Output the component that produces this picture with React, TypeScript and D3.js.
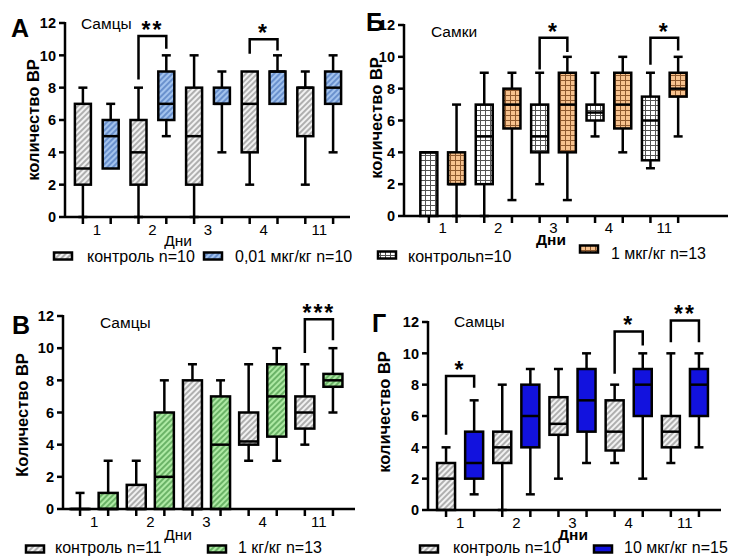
import React from "react";
import * as d3 from "d3";

const days = ["1", "2", "3", "4", "11"];
const yTicks = [0, 2, 4, 6, 8, 10, 12];

// box stats per day: [min, q1, median, q3, max]
const aControl = [[0, 2, 3, 7, 8], [0, 2, 4, 6, 8], [0, 2, 5, 8, 10], [2, 4, 7, 9, 9], [2, 5, 8, 8, 9]];
const aDose = [[3, 3, 5, 6, 7], [5, 6, 7, 9, 10], [4, 7, 7, 8, 9], [7, 7, 9, 9, 10], [4, 7, 8, 9, 10]];

const bControl = [[0, 0, 4, 4, 4], [0, 2, 5, 7, 9], [2, 4, 5, 7, 9], [5, 6, 6.5, 7, 9], [3, 3.5, 6, 7.5, 9]];
const bDose = [[0, 2, 2, 4, 7], [1, 5.5, 7, 8, 9], [1, 4, 7, 9, 10], [4, 5.5, 7, 9, 10], [5, 7.5, 8, 9, 10]];

const vControl = [[0, 0, 0, 0, 1], [0, 0, 0, 1.5, 3], [0, 0, 0, 8, 9], [3, 4, 4.2, 6, 9], [4, 5, 6, 7, 9]];
const vDose = [[0, 0, 0, 1, 3], [0, 0, 2, 6, 8], [0, 0, 4, 7, 8], [3, 4.5, 7, 9, 10], [6, 7.6, 8, 8.4, 10]];

const gControl = [[0, 0, 2, 3, 4], [0, 3, 4, 5, 8], [2, 4.8, 5.5, 7.2, 9], [3, 3.8, 5, 7, 8], [3, 4, 5, 6, 10]];
const gDose = [[1, 2, 3, 5, 7], [1, 4, 6, 8, 9], [3, 5, 7, 9, 10], [2, 6, 8, 9, 10], [4, 6, 8, 9, 10]];

// significance brackets: [day index, top, left leg end, right leg end, stars]
const aSig = [[1, 11.2, 8.5, 10.4, "**"], [3, 11, 10.1, 10.3, "*"]];
const bSig = [[2, 11.2, 9.2, 10.3, "*"], [4, 11.2, 9.5, 10.4, "*"]];
const vSig = [[4, 11.8, 9.7, 10.5, "***"]];
const gSig = [[0, 8.55, 4.8, 7.8, "*"], [3, 11.4, 8.7, 10.5, "*"], [4, 12.1, 10.7, 10.7, "**"]];

const aLegend = ["контроль n=10", "0,01 мкг/кг n=10"];
const bLegend = ["контрольn=10", "1 мкг/кг n=13"];
const vLegend = ["контроль n=11", "1 кг/кг n=13"];
const gLegend = ["контроль n=10", "10 мкг/кг n=15"];

const font = "'Liberation Sans', Arial, sans-serif";

const panels = [
  {
    control: aControl, dose: aDose, sig: aSig, legend: aLegend,
    fills: ["url(#hGray)", "url(#hBlue)"],
    axisX: 65, xEnd: 350, y0: 217, y12: 23, range: [69, 347], boxW: 16,
    letter: "А", letterX: 11, letterY: 37, title: "Самцы", titleX: 81, titleY: 29,
    yTitle: "количество ВР", yTitleX: 33, yTitleY: 120, xLabelY: 235,
    dniX: 178, dniY: 246, dniBold: false,
    lg: [[54, 256, 87, 262], [204, 256, 235, 262]],
  },
  {
    control: bControl, dose: bDose, sig: bSig, legend: bLegend,
    fills: ["url(#gWhite)", "url(#gOrange)"],
    axisX: 404, xEnd: 728, y0: 216, y12: 25, range: [415, 692], boxW: 17,
    letter: "Б", letterX: 366, letterY: 31, title: "Самки", titleX: 431, titleY: 37,
    yTitle: "количество ВР", yTitleX: 376, yTitleY: 118, xLabelY: 233,
    dniX: 551, dniY: 245, dniBold: true,
    lg: [[378, 255, 408, 262], [580, 249, 611, 259]],
  },
  {
    control: vControl, dose: vDose, sig: vSig, legend: vLegend,
    fills: ["url(#hGray)", "url(#hGreen)"],
    axisX: 63, xEnd: 355, y0: 509, y12: 316, range: [66, 347], boxW: 19,
    letter: "В", letterX: 12, letterY: 334, title: "Самцы", titleX: 100, titleY: 328,
    yTitle: "Количество ВР", yTitleX: 22, yTitleY: 415, xLabelY: 527,
    dniX: 178, dniY: 540, dniBold: false,
    lg: [[26, 549, 55, 553], [208, 549, 238, 553]],
  },
  {
    control: gControl, dose: gDose, sig: gSig, legend: gLegend,
    fills: ["url(#hGray)", "#1212de"],
    axisX: 428, xEnd: 721, y0: 510, y12: 322, range: [432, 713], boxW: 18,
    letter: "Г", letterX: 372, letterY: 332, title: "Самцы", titleX: 454, titleY: 327,
    yTitle: "количество ВР", yTitleX: 384, yTitleY: 412, xLabelY: 528,
    dniX: 573, dniY: 540, dniBold: true,
    lg: [[420, 549, 453, 553], [594, 549, 624, 553]],
  },
];

function Panel({ p }) {
  const y = d3.scaleLinear().domain([0, 12]).range([p.y0, p.y12]);
  const keys = days.flatMap((d) => [d + "c", d + "t"]);
  const x = d3.scaleBand().domain(keys).range(p.range);
  const cx = (k) => x(k) + x.bandwidth() / 2;
  const cap = 9;

  const box = (s, c, fill, key) => {
    const [mn, q1, md, q3, mx] = s;
    const w = p.boxW;
    return (
      <g key={key} stroke="#000" strokeWidth={2.5}>
        {mx > q3 && (
          <>
            <line x1={c} x2={c} y1={y(mx)} y2={y(q3)} />
            <line x1={c - cap / 2} x2={c + cap / 2} y1={y(mx)} y2={y(mx)} />
          </>
        )}
        {mn < q1 && (
          <>
            <line x1={c} x2={c} y1={y(q1)} y2={y(mn)} />
            <line x1={c - cap / 2} x2={c + cap / 2} y1={y(mn)} y2={y(mn)} />
          </>
        )}
        <rect x={c - w / 2} y={y(q3)} width={w} height={Math.max(y(q1) - y(q3), 0.1)} fill={fill} />
        <line x1={c - w / 2} x2={c + w / 2} y1={y(md)} y2={y(md)} />
      </g>
    );
  };

  return (
    <g fontFamily={font}>
      <text x={p.letterX} y={p.letterY} fontSize={25} fontWeight="bold">{p.letter}</text>
      <text x={p.titleX} y={p.titleY} fontSize={15.5}>{p.title}</text>
      <text
        transform={`translate(${p.yTitleX},${p.yTitleY}) rotate(-90)`}
        textAnchor="middle" dominantBaseline="central" fontSize={16.5} fontWeight="bold"
      >
        {p.yTitle}
      </text>

      {/* boxes */}
      {days.map((d, i) => box(p.control[i], cx(d + "c"), p.fills[0], "c" + d))}
      {days.map((d, i) => box(p.dose[i], cx(d + "t"), p.fills[1], "t" + d))}

      {/* axes */}
      <g stroke="#000" strokeWidth={2.5}>
        <line x1={p.axisX} x2={p.axisX} y1={y(12) - 1} y2={y(0) + 1} />
        <line x1={p.axisX} x2={p.xEnd} y1={y(0)} y2={y(0)} />
        {yTicks.map((t) => (
          <line key={t} x1={p.axisX - 6} x2={p.axisX} y1={y(t)} y2={y(t)} />
        ))}
        {keys.map((k) => (
          <line key={k} x1={cx(k)} x2={cx(k)} y1={y(0)} y2={y(0) + 7} />
        ))}
      </g>
      {yTicks.map((t) => (
        <text key={t} x={p.axisX - 9} y={y(t)} dy="0.36em" textAnchor="end" fontSize={14.5} fontWeight="bold">
          {t}
        </text>
      ))}
      {days.map((d) => (
        <text key={d} x={(cx(d + "c") + cx(d + "t")) / 2} y={p.xLabelY} textAnchor="middle" fontSize={15}>
          {d}
        </text>
      ))}
      <text x={p.dniX} y={p.dniY} textAnchor="middle" fontSize={15.5} fontWeight={p.dniBold ? "bold" : "normal"}>
        Дни
      </text>

      {/* significance */}
      {p.sig.map(([i, top, l, r, stars]) => {
        const x1 = cx(days[i] + "c");
        const x2 = cx(days[i] + "t");
        return (
          <g key={i}>
            <path
              d={`M${x1},${y(l)}V${y(top)}H${x2}V${y(r)}`}
              fill="none" stroke="#000" strokeWidth={2.5}
            />
            <text x={(x1 + x2) / 2} y={y(top) + 2} textAnchor="middle" fontSize={23} fontWeight="bold" letterSpacing={2}>
              {stars}
            </text>
          </g>
        );
      })}

      {/* legend */}
      {p.lg.map(([sx, sy, tx, ty], j) => (
        <g key={j}>
          <rect x={sx} y={sy - 3.5} width={18} height={7} fill={p.fills[j]} stroke="#000" strokeWidth={2.5} />
          <text x={tx} y={ty} fontSize={16}>{p.legend[j]}</text>
        </g>
      ))}
    </g>
  );
}

export default function App() {
  return (
    <svg
      width={733}
      height={556}
      style={{ position: "absolute", left: 0, top: 0, background: "#fff" }}
    >
      <defs>
        <pattern id="hGray" patternUnits="userSpaceOnUse" width={4} height={4} patternTransform="rotate(45)">
          <rect width={4} height={4} fill="#f2f2f2" />
          <line x1={2} x2={2} y1={0} y2={4} stroke="#8c8c8c" strokeWidth={1.3} />
        </pattern>
        <pattern id="hBlue" patternUnits="userSpaceOnUse" width={4} height={4} patternTransform="rotate(45)">
          <rect width={4} height={4} fill="#a3c3ee" />
          <line x1={2} x2={2} y1={0} y2={4} stroke="#4470b8" strokeWidth={1.2} />
        </pattern>
        <pattern id="hGreen" patternUnits="userSpaceOnUse" width={4} height={4} patternTransform="rotate(45)">
          <rect width={4} height={4} fill="#aeeaa4" />
          <line x1={2} x2={2} y1={0} y2={4} stroke="#3f8f3f" strokeWidth={1.2} />
        </pattern>
        <pattern id="gWhite" patternUnits="userSpaceOnUse" width={5} height={5}>
          <rect width={5} height={5} fill="#fff" />
          <path d="M0,0.5H5M0.5,0V5" stroke="#555" strokeWidth={1} />
        </pattern>
        <pattern id="gOrange" patternUnits="userSpaceOnUse" width={5} height={5}>
          <rect width={5} height={5} fill="#f7c28e" />
          <path d="M0,0.5H5M0.5,0V5" stroke="#8f5a2e" strokeWidth={1} />
        </pattern>
      </defs>
      {panels.map((p, i) => (
        <Panel key={i} p={p} />
      ))}
    </svg>
  );
}
